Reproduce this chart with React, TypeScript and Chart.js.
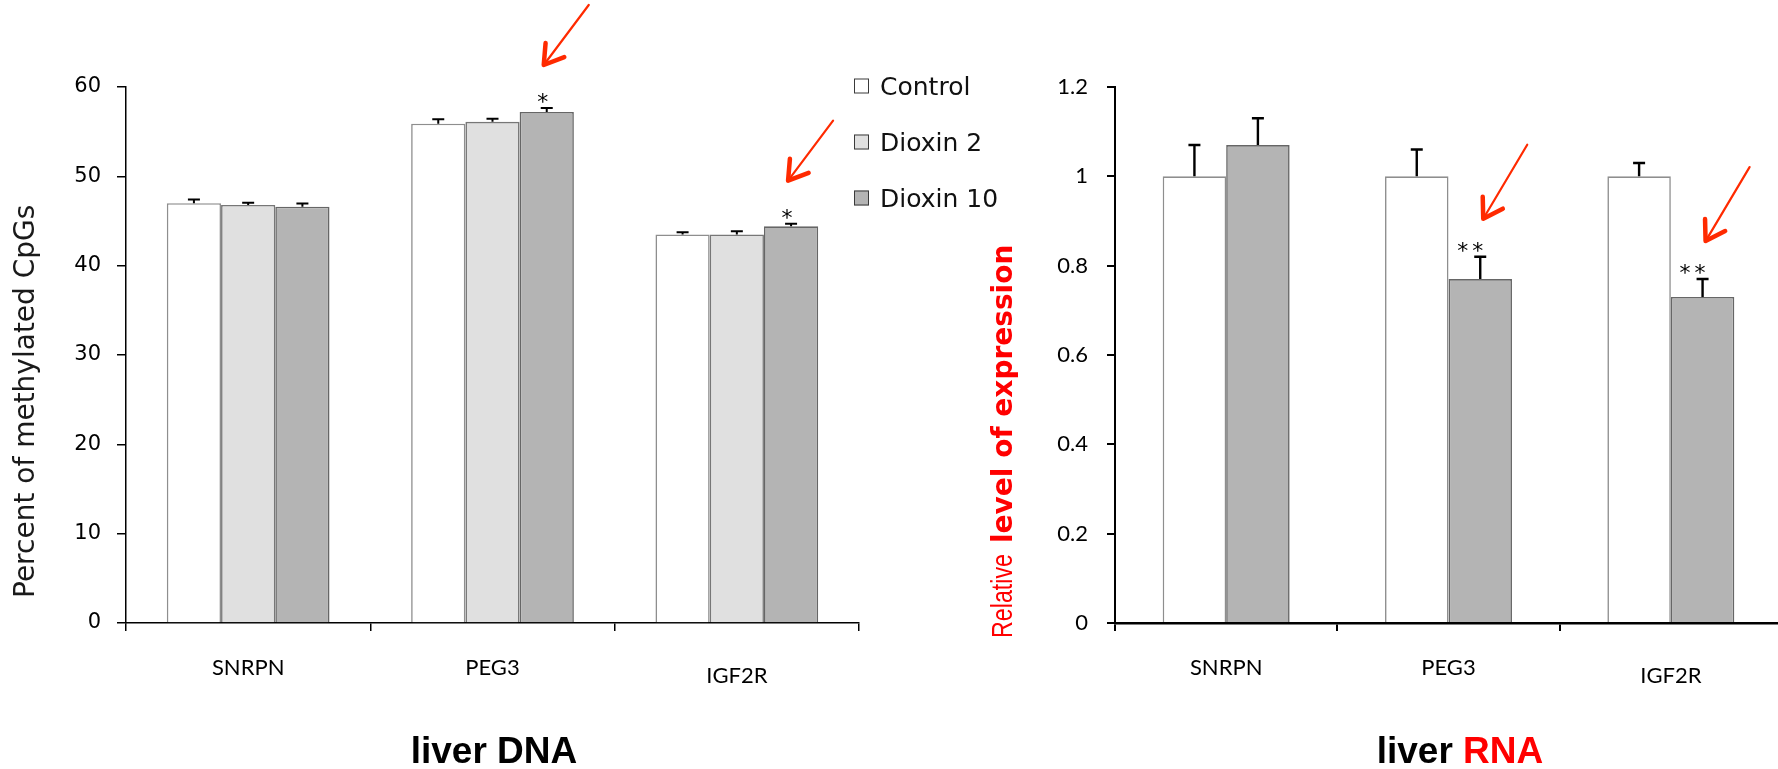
import React, { useEffect, useRef } from 'react';
import { Chart, registerables } from 'chart.js';

Chart.register(...registerables);

// ---------- data ----------
const categories = ['SNRPN', 'PEG3', 'IGF2R'];
const seriesNames = ['Control', 'Dioxin 2', 'Dioxin 10'];

const dnaControl = [47.0, 55.9, 43.5];
const dnaControlErr = [0.4, 0.5, 0.25];
const dnaDioxin2 = [46.8, 56.1, 43.5];
const dnaDioxin2Err = [0.25, 0.35, 0.35];
const dnaDioxin10 = [46.6, 57.2, 44.4];
const dnaDioxin10Err = [0.35, 0.45, 0.3];
const dnaDioxin10Sig = ['', '*', '*'];

const rnaControl = [1.0, 1.0, 1.0];
const rnaControlErr = [0.07, 0.06, 0.03];
const rnaDioxin10 = [1.07, 0.77, 0.73];
const rnaDioxin10Err = [0.06, 0.05, 0.04];
const rnaDioxin10Sig = ['', '**', '**'];

const dnaTicks = [0, 10, 20, 30, 40, 50, 60];
const rnaTicks = [0, 0.2, 0.4, 0.6, 0.8, 1.0, 1.2];
const rnaTickLabels = ['0', '0.2', '0.4', '0.6', '0.8', '1', '1.2'];

const dnaYTitle = 'Percent of methylated CpGs';
const rnaYTitleA = 'Relative';
const rnaYTitleB = 'level of expression';
const dnaTitle = ['liver ', 'DNA'];
const rnaTitle = ['liver ', 'RNA'];

// ---------- styles ----------
const fills = ['#ffffff', '#e0e0e0', '#b4b4b4'];
const borders = ['#8e8e8e', '#777777', '#666666'];
const RED = '#ff0000';
const ARROW = '#ff2a00';

function drawArrow(ctx: CanvasRenderingContext2D, tx: number, ty: number, vx: number, vy: number) {
  ctx.save();
  ctx.strokeStyle = ARROW;
  ctx.lineCap = 'round';
  ctx.lineJoin = 'round';
  ctx.lineWidth = 2.2;
  ctx.beginPath();
  ctx.moveTo(tx + vx, ty + vy);
  ctx.lineTo(tx, ty);
  ctx.stroke();
  const ang = Math.atan2(vy, vx);
  const L = 22;
  const sp = 0.56;
  ctx.lineWidth = 4.5;
  ctx.beginPath();
  ctx.moveTo(tx + L * Math.cos(ang - sp), ty + L * Math.sin(ang - sp));
  ctx.lineTo(tx, ty);
  ctx.lineTo(tx + L * Math.cos(ang + sp), ty + L * Math.sin(ang + sp));
  ctx.stroke();
  ctx.restore();
}

const annotPlugin = {
  id: 'annot',
  afterDatasetsDraw(chart: any, _args: any, o: any) {
    const ctx: CanvasRenderingContext2D = chart.ctx;
    const ys = chart.scales.y;
    const area = chart.chartArea;
    chart.data.datasets.forEach((ds: any, i: number) => {
      const meta = chart.getDatasetMeta(i);
      meta.data.forEach((el: any, j: number) => {
        const v = ds.data[j];
        const e = ds.errors ? ds.errors[j] : 0;
        const top = ys.getPixelForValue(v + e);
        ctx.save();
        ctx.strokeStyle = '#000';
        ctx.lineWidth = o.errWidth;
        ctx.beginPath();
        ctx.moveTo(el.x, el.y);
        ctx.lineTo(el.x, top);
        ctx.moveTo(el.x - o.capHalf, top);
        ctx.lineTo(el.x + o.capHalf, top);
        ctx.stroke();
        const sig = ds.sig ? ds.sig[j] : '';
        if (sig) {
          ctx.fillStyle = '#000';
          ctx.font = o.starFont;
          (ctx as any).letterSpacing = o.starSpacing;
          ctx.textAlign = 'center';
          ctx.textBaseline = 'alphabetic';
          ctx.fillText(sig, el.x + o.starDx, top + o.starDy);
          (ctx as any).letterSpacing = '0px';
          drawArrow(ctx, el.x + o.arrow.dx, top + o.arrow.dy, o.arrow.vx, o.arrow.vy);
        }
        ctx.restore();
      });
    });

    // legend
    if (o.legend) {
      const L = o.legend;
      ctx.save();
      chart.data.datasets.forEach((ds: any, i: number) => {
        const cy = L.y0 + i * L.dy;
        ctx.fillStyle = ds.backgroundColor;
        ctx.fillRect(L.x, cy - L.box / 2, L.box, L.box);
        ctx.strokeStyle = '#3a3a3a';
        ctx.lineWidth = 1;
        ctx.strokeRect(L.x + 0.5, cy - L.box / 2 + 0.5, L.box - 1, L.box - 1);
        ctx.fillStyle = '#111';
        ctx.font = L.font;
        ctx.textAlign = 'left';
        ctx.textBaseline = 'alphabetic';
        ctx.fillText(ds.label, L.textX, cy + L.baseDy);
      });
      ctx.restore();
    }

    // y title (rotated)
    if (o.yTitle) {
      const T = o.yTitle;
      ctx.save();
      ctx.translate(T.x, T.y);
      ctx.rotate(-Math.PI / 2);
      ctx.textAlign = 'left';
      ctx.textBaseline = 'alphabetic';
      let pos = 0;
      T.parts.forEach((p: any) => {
        ctx.font = p.font;
        ctx.fillStyle = p.color;
        const w = Math.min(ctx.measureText(p.text).width, p.maxWidth);
        ctx.fillText(p.text, pos, 0, p.maxWidth);
        pos += w + (p.gap || 0);
      });
      ctx.restore();
    }

    // bottom title
    if (o.title) {
      const T = o.title;
      ctx.save();
      ctx.font = T.font;
      ctx.textBaseline = 'alphabetic';
      ctx.textAlign = 'left';
      const total = T.parts.reduce((s: number, p: any) => s + ctx.measureText(p.text).width, 0);
      let x = (area.left + area.right) / 2 + T.dx - total / 2;
      T.parts.forEach((p: any) => {
        ctx.fillStyle = p.color;
        ctx.fillText(p.text, x, T.y);
        x += ctx.measureText(p.text).width;
      });
      ctx.restore();
    }
  },
};

const xLabelFont = (c: any) => ({
  family: 'Lato',
  size: 22,
  lineHeight: c.index === 2 ? '42px' : '26px',
});

function makeDataset(label: string, data: number[], errors: number[], idx: number, sig?: string[]) {
  return {
    label,
    data,
    errors,
    sig,
    backgroundColor: fills[idx],
    borderColor: borders[idx],
    borderWidth: 1.6,
    borderSkipped: 'bottom',
  } as any;
}

function dnaConfig(): any {
  return {
    type: 'bar',
    data: {
      labels: categories,
      datasets: [
        makeDataset(seriesNames[0], dnaControl, dnaControlErr, 0),
        makeDataset(seriesNames[1], dnaDioxin2, dnaDioxin2Err, 1),
        makeDataset(seriesNames[2], dnaDioxin10, dnaDioxin10Err, 2, dnaDioxin10Sig),
      ],
    },
    options: {
      responsive: false,
      animation: false,
      devicePixelRatio: 1,
      datasets: { bar: { categoryPercentage: 0.666, barPercentage: 1 } },
      layout: { padding: { left: 0, right: 141, top: 87, bottom: 76 } },
      plugins: {
        legend: { display: false },
        tooltip: { enabled: false },
        annot: {
          errWidth: 2,
          capHalf: 6,
          starFont: '22px "DejaVu Sans"',
          starSpacing: '0px',
          starDx: -4,
          starDy: 1,
          arrow: { dx: -3, dy: -43, vx: 45, vy: -60 },
          legend: { x: 854, y0: 86, dy: 56, box: 15, textX: 880, baseDy: 9, font: '25px "DejaVu Sans"' },
          yTitle: {
            x: 34,
            y: 598,
            parts: [{ text: dnaYTitle, font: '28px "DejaVu Sans"', color: '#1a1a1a', maxWidth: 410 }],
          },
          title: {
            font: 'bold 37px "Liberation Sans"',
            y: 763,
            dx: 1.5,
            parts: [
              { text: dnaTitle[0], color: '#000' },
              { text: dnaTitle[1], color: '#000' },
            ],
          },
        },
      },
      scales: {
        x: {
          offset: true,
          grid: { display: true, drawOnChartArea: false, drawTicks: true, tickLength: 8, offset: true, color: '#000', lineWidth: 1.5 },
          border: { display: true, color: '#000', width: 1.5 },
          ticks: { padding: 24, color: '#000', font: xLabelFont, maxRotation: 0, autoSkip: false },
          afterFit: (s: any) => { s.height = 70; },
        },
        y: {
          min: 0,
          max: 60,
          grid: { display: true, drawOnChartArea: false, drawTicks: true, tickLength: 9, color: '#000', lineWidth: 1.5 },
          border: { display: true, color: '#000', width: 1.5 },
          ticks: { padding: 16, color: '#000', font: { family: 'DejaVu Sans', size: 21 } },
          afterBuildTicks: (s: any) => { s.ticks = dnaTicks.map((v) => ({ value: v })); },
          afterFit: (s: any) => { s.width = 126; },
        },
      },
    },
    plugins: [annotPlugin],
  };
}

function rnaConfig(): any {
  return {
    type: 'bar',
    data: {
      labels: categories,
      datasets: [
        makeDataset(seriesNames[0], rnaControl, rnaControlErr, 0),
        makeDataset(seriesNames[2], rnaDioxin10, rnaDioxin10Err, 2, rnaDioxin10Sig),
      ],
    },
    options: {
      responsive: false,
      animation: false,
      devicePixelRatio: 1,
      datasets: { bar: { categoryPercentage: 0.571, barPercentage: 1 } },
      layout: { padding: { left: 0, right: 18, top: 87, bottom: 76 } },
      plugins: {
        legend: { display: false },
        tooltip: { enabled: false },
        annot: {
          errWidth: 2.4,
          capHalf: 6,
          starFont: '22px "DejaVu Sans"',
          starSpacing: '4px',
          starDx: -8,
          starDy: 1,
          arrow: { dx: 3, dy: -38, vx: 44, vy: -74 },
          yTitle: {
            x: 27,
            y: 638,
            parts: [
              { text: rnaYTitleA, font: '30px "Liberation Sans Narrow", "Liberation Sans"', color: RED, maxWidth: 84, gap: 11 },
              { text: rnaYTitleB, font: 'bold 28px "DejaVu Sans"', color: RED, maxWidth: 302 },
            ],
          },
          title: {
            font: 'bold 37px "Liberation Sans"',
            y: 763,
            dx: 11.5,
            parts: [
              { text: rnaTitle[0], color: '#000' },
              { text: rnaTitle[1], color: RED },
            ],
          },
        },
      },
      scales: {
        x: {
          offset: true,
          grid: { display: true, drawOnChartArea: false, drawTicks: true, tickLength: 8, offset: true, color: '#000', lineWidth: 2 },
          border: { display: true, color: '#000', width: 2.5 },
          ticks: { padding: 24, color: '#000', font: xLabelFont, maxRotation: 0, autoSkip: false },
          afterFit: (s: any) => { s.height = 70; },
        },
        y: {
          min: 0,
          max: 1.2,
          grid: { display: true, drawOnChartArea: false, drawTicks: true, tickLength: 8, color: '#000', lineWidth: 2 },
          border: { display: true, color: '#000', width: 2 },
          ticks: {
            padding: 19,
            color: '#000',
            font: { family: 'Lato', size: 22 },
            callback: (_v: any, i: number) => rnaTickLabels[i],
          },
          afterBuildTicks: (s: any) => { s.ticks = rnaTicks.map((v) => ({ value: v })); },
          afterFit: (s: any) => { s.width = 130; },
        },
      },
    },
    plugins: [annotPlugin],
  };
}

function ChartCanvas({ makeConfig, left, width }: { makeConfig: () => any; left: number; width: number }) {
  const ref = useRef<HTMLCanvasElement>(null);
  useEffect(() => {
    const chart = new Chart(ref.current as HTMLCanvasElement, makeConfig());
    return () => chart.destroy();
  }, []);
  return (
    <canvas
      ref={ref}
      width={width}
      height={769}
      style={{ position: 'absolute', left, top: 0, width, height: 769 }}
    />
  );
}

export default function App() {
  return (
    <div
      style={{
        position: 'fixed',
        left: 0,
        top: 0,
        width: 1778,
        height: 769,
        overflow: 'hidden',
        background: '#ffffff',
      }}
    >
      <ChartCanvas makeConfig={dnaConfig} left={0} width={1000} />
      <ChartCanvas makeConfig={rnaConfig} left={985} width={815} />
    </div>
  );
}
